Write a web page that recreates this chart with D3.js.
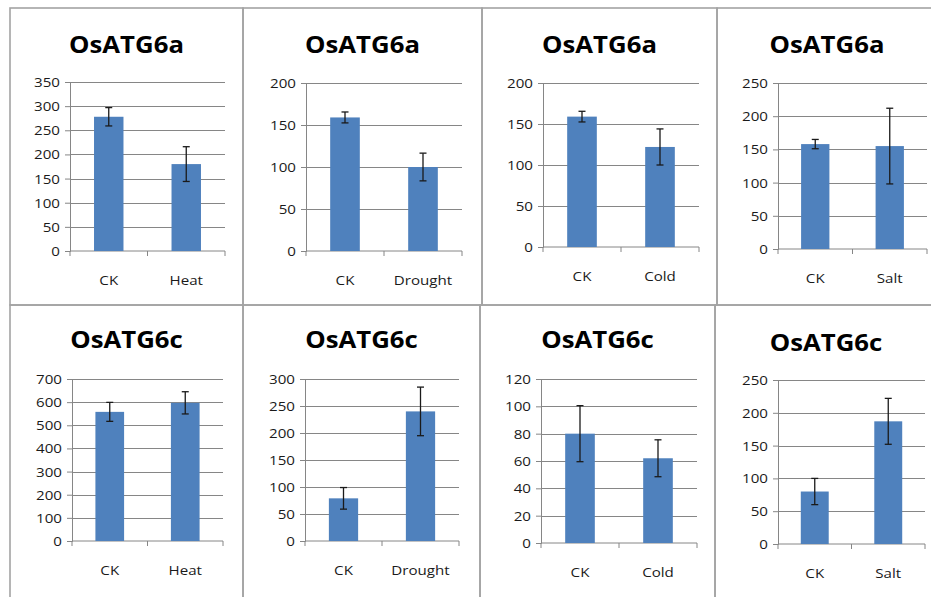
<!DOCTYPE html>
<html>
<head>
<meta charset="utf-8">
<script src="https://cdn.jsdelivr.net/npm/d3@7"></script>
<style>
  html, body { margin: 0; padding: 0; background: #fff; }
  svg { display: block; }
</style>
</head>
<body>
<div id="chart"></div>
<script>
// panel titles, categories and values
const TITLES = ['OsATG6a', 'OsATG6a', 'OsATG6a', 'OsATG6a', 'OsATG6c', 'OsATG6c', 'OsATG6c', 'OsATG6c'];
const TREATMENTS = ['Heat', 'Drought', 'Cold', 'Salt'];
const MEANS_6A = [[278, 180], [159, 100], [159, 122], [158, 155]];
const ERRORS_6A = [[19, 36], [6.5, 16.5], [6.5, 22], [7, 57]];
const MEANS_6C = [[558, 597], [79, 240], [80, 62], [80, 187]];
const ERRORS_6C = [[41, 48], [20, 45], [20.5, 13.5], [20, 35]];
const Y_MAX = [350, 200, 200, 250, 700, 300, 120, 250];
const Y_STEP = [50, 50, 50, 50, 100, 50, 20, 50];

// layout of each panel: frame and plot area, in page pixels
const FRAMES = [
  [10, 8, 243, 305], [243, 8, 482, 305], [482, 8, 717, 305], [717, 8, 935, 305],
  [10, 305, 243, 600], [243, 305, 480, 600], [480, 305, 715, 600], [715, 305, 935, 600]
];
const PLOTS = [
  [70, 82, 225, 251], [306, 83, 462, 251], [543, 83, 699, 247], [778, 83, 927, 249],
  [72, 379, 223, 541], [305, 379, 459, 541], [541, 379, 697, 543], [778, 380, 925, 544]
];
const TITLE_Y = [53, 53, 53, 53, 348, 348, 348, 351];

const BAR_COLOR = '#4f81bd';
const GRID_COLOR = '#868686';
const FONT = "'Open Sans', 'DejaVu Sans', sans-serif";
const STRETCH = 1.12;

const svg = d3.select('#chart').append('svg')
  .attr('width', 931)
  .attr('height', 597);

svg.append('rect')
  .attr('width', 931)
  .attr('height', 597)
  .attr('fill', '#fff');

function stretchedText(g, x, y, str) {
  return g.append('text')
    .attr('transform', `translate(${x}, ${y}) scale(${STRETCH}, 1)`)
    .text(str);
}

for (let i = 0; i < 8; i++) {
  const k = i % 4;
  const cats = ['CK', TREATMENTS[k]];
  const means = i < 4 ? MEANS_6A[k] : MEANS_6C[k];
  const errs = i < 4 ? ERRORS_6A[k] : ERRORS_6C[k];
  const data = cats.map((c, j) => ({ cat: c, mean: means[j], err: errs[j] }));
  const [fx0, fy0, fx1, fy1] = FRAMES[i];
  const [px0, py0, px1, py1] = PLOTS[i];

  const g = svg.append('g');

  // panel frame
  g.append('rect')
    .attr('x', fx0)
    .attr('y', fy0)
    .attr('width', fx1 - fx0)
    .attr('height', fy1 - fy0)
    .attr('fill', 'none')
    .attr('stroke', '#a3a3a3')
    .attr('stroke-width', 1.6);

  const x = d3.scaleBand()
    .domain(cats)
    .range([px0, px1])
    .paddingInner(0.62)
    .paddingOuter(0.31);

  const y = d3.scaleLinear()
    .domain([0, Y_MAX[i]])
    .range([py1, py0]);

  const ticks = d3.range(0, Y_MAX[i] + Y_STEP[i] / 2, Y_STEP[i]);

  // gridlines
  g.append('g')
    .selectAll('line')
    .data(ticks.slice(1))
    .join('line')
    .attr('x1', px0)
    .attr('x2', px1)
    .attr('y1', d => Math.round(y(d)) + 0.5)
    .attr('y2', d => Math.round(y(d)) + 0.5)
    .attr('stroke', GRID_COLOR)
    .attr('stroke-width', 1);

  // y axis
  const yAxis = g.append('g')
    .attr('transform', `translate(${px0}, 0)`)
    .call(d3.axisLeft(y).tickValues(ticks).tickSize(5).tickPadding(7).tickFormat(d3.format('d')));
  yAxis.select('.domain').attr('stroke', GRID_COLOR);
  yAxis.selectAll('.tick line').attr('stroke', GRID_COLOR);
  yAxis.selectAll('.tick text').remove();
  ticks.forEach(t => {
    stretchedText(g, px0 - 10, y(t) + 5, t)
      .attr('text-anchor', 'end')
      .attr('font-family', FONT)
      .attr('font-size', 13.5)
      .attr('fill', '#1a1a1a');
  });

  // x axis with ticks between categories
  const boundaries = [px0, (px0 + px1) / 2, px1];
  g.append('line')
    .attr('x1', px0).attr('x2', px1)
    .attr('y1', py1).attr('y2', py1)
    .attr('stroke', GRID_COLOR);
  g.append('g')
    .selectAll('line')
    .data(boundaries)
    .join('line')
    .attr('x1', d => d).attr('x2', d => d)
    .attr('y1', py1).attr('y2', py1 + 5)
    .attr('stroke', GRID_COLOR);

  // bars
  g.append('g')
    .selectAll('rect')
    .data(data)
    .join('rect')
    .attr('x', d => x(d.cat))
    .attr('y', d => y(d.mean))
    .attr('width', x.bandwidth())
    .attr('height', d => py1 - y(d.mean))
    .attr('fill', BAR_COLOR);

  // error bars
  const eb = g.append('g')
    .selectAll('g')
    .data(data)
    .join('g')
    .attr('stroke', '#1a1a1a')
    .attr('stroke-width', 1.3);
  eb.append('line')
    .attr('x1', d => x(d.cat) + x.bandwidth() / 2)
    .attr('x2', d => x(d.cat) + x.bandwidth() / 2)
    .attr('y1', d => y(d.mean + d.err))
    .attr('y2', d => y(d.mean - d.err));
  eb.append('line')
    .attr('x1', d => x(d.cat) + x.bandwidth() / 2 - 3.5)
    .attr('x2', d => x(d.cat) + x.bandwidth() / 2 + 3.5)
    .attr('y1', d => y(d.mean + d.err))
    .attr('y2', d => y(d.mean + d.err));
  eb.append('line')
    .attr('x1', d => x(d.cat) + x.bandwidth() / 2 - 3.5)
    .attr('x2', d => x(d.cat) + x.bandwidth() / 2 + 3.5)
    .attr('y1', d => y(d.mean - d.err))
    .attr('y2', d => y(d.mean - d.err));

  // category labels
  data.forEach(d => {
    stretchedText(g, x(d.cat) + x.bandwidth() / 2, py1 + 34, d.cat)
      .attr('text-anchor', 'middle')
      .attr('font-family', FONT)
      .attr('font-size', 13.5)
      .attr('fill', '#1a1a1a');
  });

  // title
  stretchedText(g, (fx0 + Math.min(fx1, 931)) / 2 + (i % 4 === 3 ? 3 : 0), TITLE_Y[i], TITLES[i])
    .attr('text-anchor', 'middle')
    .attr('font-family', FONT)
    .attr('font-weight', 'bold')
    .attr('font-size', 23)
    .attr('fill', '#000');
}
</script>
</body>
</html>
